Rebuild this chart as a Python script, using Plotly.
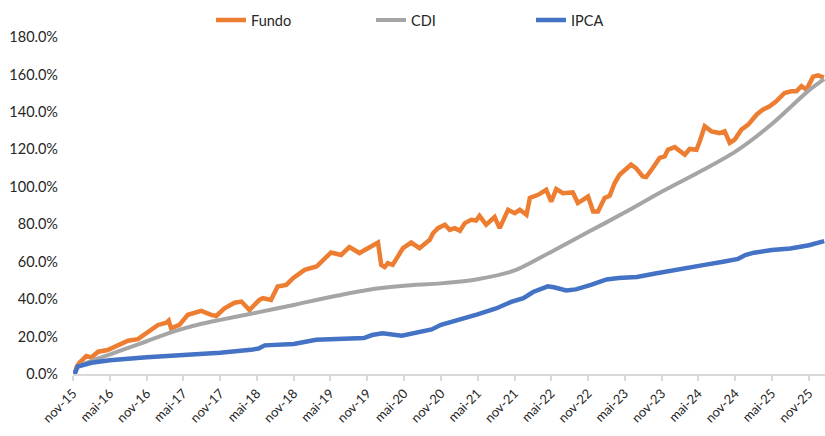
import plotly.graph_objects as go

# ---- Data (cumulative return, %) ----
fundo_dates = [
    "2015-11-09", "2015-11-20", "2015-12-03", "2016-01-06", "2016-02-01", "2016-03-05", "2016-04-21",
    "2016-06-02", "2016-07-31", "2016-09-18", "2016-11-08", "2016-12-27", "2017-02-07", "2017-02-18",
    "2017-03-02", "2017-04-12", "2017-05-24", "2017-07-30", "2017-09-17", "2017-10-12", "2017-11-22",
    "2018-01-11", "2018-02-14", "2018-03-26", "2018-05-14", "2018-06-01", "2018-07-11", "2018-08-13",
    "2018-09-25", "2018-10-28", "2018-12-25", "2019-02-22", "2019-05-05", "2019-06-24", "2019-08-04",
    "2019-09-23", "2019-11-04", "2019-12-24", "2020-01-09", "2020-01-26", "2020-02-11", "2020-03-06",
    "2020-04-26", "2020-06-06", "2020-07-17", "2020-09-06", "2020-09-22", "2020-10-17", "2020-11-20",
    "2020-12-14", "2021-01-08", "2021-02-03", "2021-02-27", "2021-03-31", "2021-04-24", "2021-05-11",
    "2021-06-13", "2021-07-25", "2021-08-19", "2021-09-30", "2021-11-02", "2021-11-27", "2021-12-30",
    "2022-01-16", "2022-02-26", "2022-04-07", "2022-05-02", "2022-05-27", "2022-06-29", "2022-08-17",
    "2022-09-11", "2022-10-06", "2022-11-01", "2022-11-26", "2022-12-20", "2023-01-22", "2023-02-16",
    "2023-03-13", "2023-04-06", "2023-06-02", "2023-06-27", "2023-07-30", "2023-08-16", "2023-09-18",
    "2023-10-22", "2023-11-16", "2023-12-02", "2024-01-05", "2024-02-07", "2024-02-24", "2024-03-19",
    "2024-04-22", "2024-05-08", "2024-06-02", "2024-07-05", "2024-08-15", "2024-09-09", "2024-10-04",
    "2024-10-29", "2024-12-01", "2025-01-04", "2025-02-14", "2025-03-17", "2025-04-20", "2025-05-23",
    "2025-07-03", "2025-08-06", "2025-08-31", "2025-09-25", "2025-10-20", "2025-11-06", "2025-11-22",
    "2025-12-17", "2026-01-14",
]
fundo_values = [
    0.0, 4.0, 6.0, 9.6, 8.9, 11.9, 12.8,
    15.1, 17.8, 18.6, 22.6, 26.2, 27.4, 28.5,
    24.4, 26.2, 31.6, 33.7, 31.6, 31.0, 35.1,
    38.1, 38.7, 34.2, 39.6, 40.5, 39.6, 46.7,
    47.6, 51.2, 55.6, 57.4, 64.9, 63.6, 67.8,
    64.6, 67.2, 70.2, 58.3, 57.1, 59.2, 58.3,
    67.2, 70.2, 67.2, 71.7, 75.2, 77.9, 79.7,
    77.0, 77.9, 76.5, 80.6, 82.4, 82.0, 84.5,
    79.7, 83.8, 77.9, 87.7, 85.9, 87.7, 85.0,
    94.0, 95.7, 98.4, 92.1, 98.8, 96.6, 97.0,
    91.3, 93.1, 94.8, 86.8, 86.8, 94.0, 95.2,
    102.0, 106.4, 111.8, 110.0, 105.5, 105.2, 110.0,
    115.4, 116.2, 119.8, 121.2, 118.0, 117.1, 120.2,
    119.8, 124.2, 132.3, 129.6, 128.7, 129.6, 123.4,
    125.2, 130.5, 133.2, 138.5, 141.2, 143.0, 145.6,
    150.1, 151.0, 151.0, 153.7, 151.9, 155.5, 158.8,
    159.5, 158.3,
]

cdi_dates = [
    "2015-11-09", "2015-11-22", "2016-02-01", "2016-05-01", "2016-08-01", "2016-11-01", "2017-02-01",
    "2017-05-01", "2017-08-01", "2017-11-01", "2018-05-01", "2018-11-01", "2019-05-01", "2019-11-01",
    "2020-05-01", "2020-11-01", "2021-05-01", "2021-11-01", "2022-05-01", "2022-11-01", "2023-05-01",
    "2023-11-01", "2024-05-01", "2024-11-01", "2025-05-01", "2025-11-01", "2026-01-16",
]
cdi_values = [
    0.0, 3.5, 7.0, 10.4, 14.0, 17.5, 21.2,
    24.2, 26.8, 28.9, 32.8, 36.9, 41.1, 44.9,
    47.1, 48.4, 50.6, 55.3, 65.2, 75.8, 86.2,
    97.3, 107.6, 118.8, 133.5, 151.5, 157.5,
]

ipca_dates = [
    "2015-11-09", "2015-11-24", "2016-02-01", "2016-05-01", "2016-11-01", "2017-05-01", "2017-11-01",
    "2018-04-01", "2018-05-10", "2018-06-10", "2018-11-01", "2019-02-20", "2019-08-01", "2019-10-15",
    "2019-11-25", "2020-01-15", "2020-04-20", "2020-07-01", "2020-09-15", "2020-11-01", "2021-02-01",
    "2021-05-01", "2021-08-01", "2021-10-15", "2021-12-15", "2022-02-01", "2022-04-15", "2022-05-15",
    "2022-07-15", "2022-09-01", "2022-11-15", "2023-02-01", "2023-04-01", "2023-07-01", "2023-10-01",
    "2024-01-01", "2024-06-01", "2024-09-01", "2024-11-15", "2024-12-20", "2025-02-01", "2025-05-01",
    "2025-08-01", "2025-11-01", "2026-01-16",
]
ipca_values = [
    0.0, 4.0, 6.0, 7.4, 9.0, 10.1, 11.4,
    12.9, 13.6, 15.3, 16.0, 18.3, 18.7, 19.2,
    20.8, 21.7, 20.4, 21.8, 23.8, 26.3, 28.8,
    31.8, 35.0, 38.5, 40.5, 43.8, 46.8, 46.3,
    44.6, 45.2, 47.6, 50.5, 51.3, 51.8, 53.7,
    55.6, 58.3, 60.0, 61.5, 63.5, 64.8, 66.2,
    67.0, 68.8, 71.0,
]

tick_dates = [
    "2015-11-01", "2016-05-01", "2016-11-01", "2017-05-01", "2017-11-01", "2018-05-01", "2018-11-01",
    "2019-05-01", "2019-11-01", "2020-05-01", "2020-11-01", "2021-05-01", "2021-11-01", "2022-05-01",
    "2022-11-01", "2023-05-01", "2023-11-01", "2024-05-01", "2024-11-01", "2025-05-01", "2025-11-01",
]
tick_labels = [
    "nov-15", "mai-16", "nov-16", "mai-17", "nov-17", "mai-18", "nov-18",
    "mai-19", "nov-19", "mai-20", "nov-20", "mai-21", "nov-21", "mai-22",
    "nov-22", "mai-23", "nov-23", "mai-24", "nov-24", "mai-25", "nov-25",
]

fig = go.Figure()
fig.add_trace(go.Scatter(x=fundo_dates, y=fundo_values, name="Fundo", mode="lines",
                         line=dict(color="#ED7D31", width=4.5)))
fig.add_trace(go.Scatter(x=cdi_dates, y=cdi_values, name="CDI", mode="lines",
                         line=dict(color="#A5A5A5", width=4, shape="spline", smoothing=0.8)))
fig.add_trace(go.Scatter(x=ipca_dates, y=ipca_values, name="IPCA", mode="lines",
                         line=dict(color="#4472C4", width=4.5)))

fig.update_layout(
    width=825, height=436,
    margin=dict(l=73, r=0, t=37, b=62),
    paper_bgcolor="white", plot_bgcolor="white",
    font=dict(family="Lato", color="#262626"),
    showlegend=True,
    legend=dict(orientation="h", x=0.1835, xanchor="left", y=1.05, yanchor="middle",
                font=dict(size=14.5), entrywidth=115, entrywidthmode="pixels",
                bgcolor="rgba(0,0,0,0)"),
    xaxis=dict(type="date", range=["2015-11-01", "2026-01-20"],
               tickmode="array", tickvals=tick_dates, ticktext=tick_labels,
               tickangle=-45, tickfont=dict(size=13),
               showline=True, linecolor="#D9D9D9", linewidth=1.5,
               ticks="outside", ticklen=5, tickcolor="#D9D9D9", tickwidth=1.5,
               showgrid=False, zeroline=False),
    yaxis=dict(range=[0, 180], dtick=20, tickformat=".1f", ticksuffix="%",
               tickfont=dict(size=14.5), showgrid=False, zeroline=False,
               showline=False, ticks="", ticklabelstandoff=14),
)

fig.write_html("out.html", config={"displayModeBar": False},
               post_script="document.body.style.margin='0';")
